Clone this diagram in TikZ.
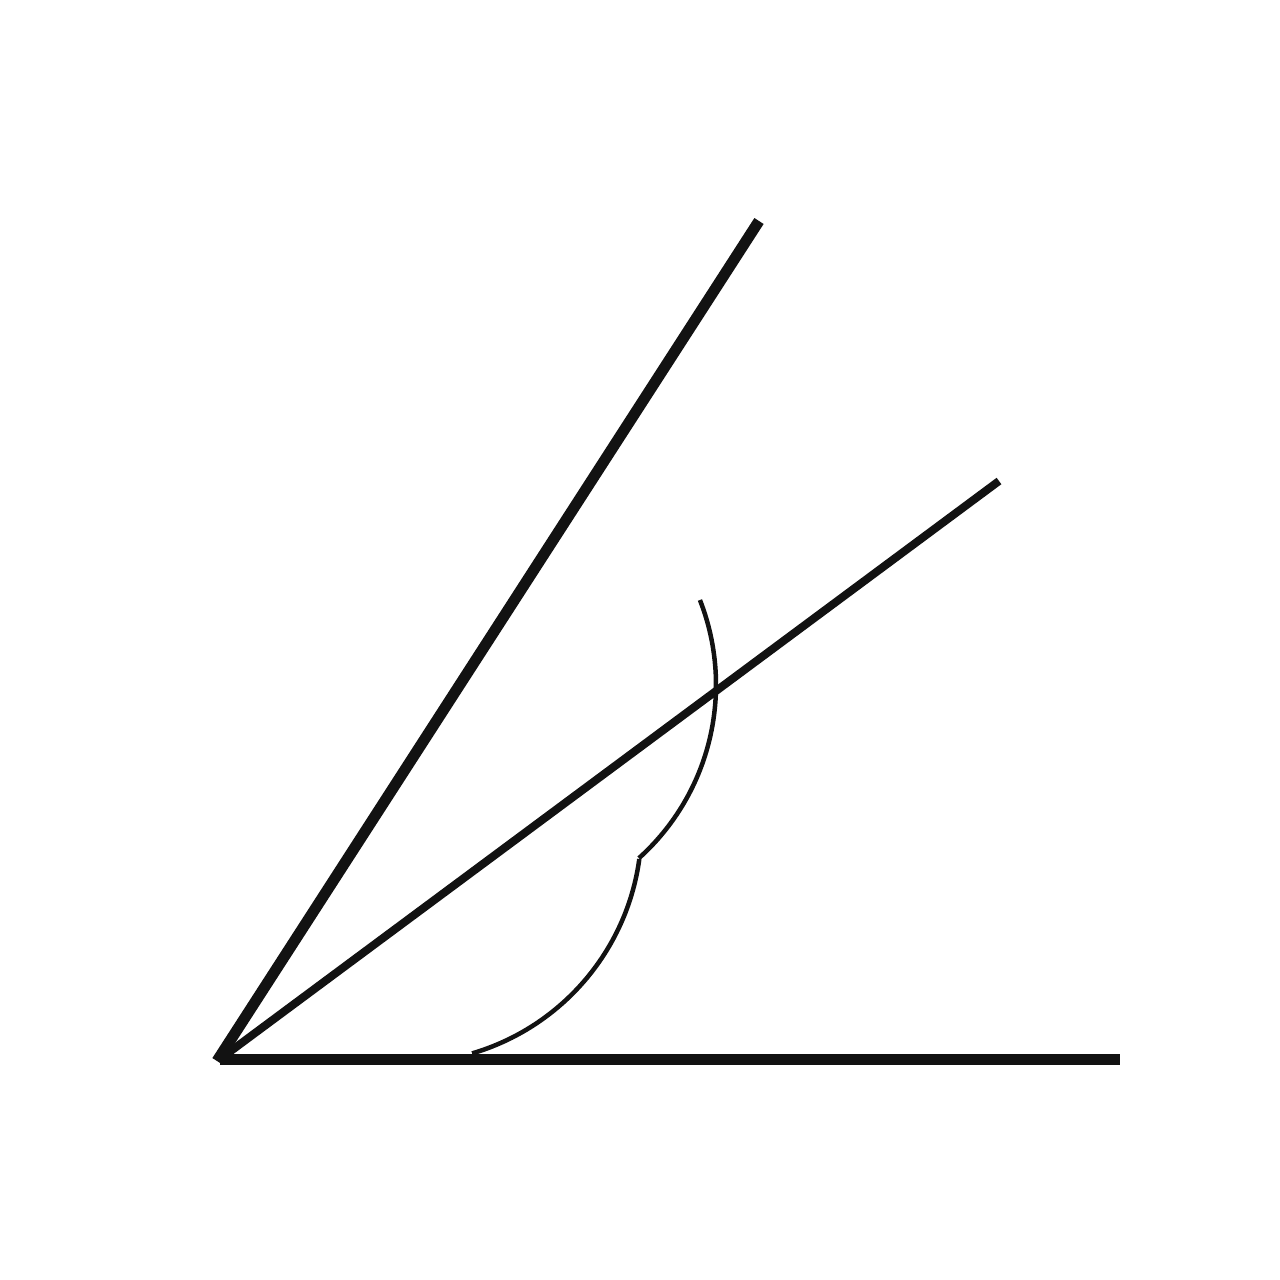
\documentclass[tikz,border=0pt]{standalone}
\begin{document}
\begin{tikzpicture}[x=1pt,y=-1pt,
  ink/.style={draw=black!93, line cap=butt},
  ray/.style={ink, line width=11pt},
  midray/.style={ink, line width=8pt},
  arcline/.style={ink, line width=4.5pt}]
\useasboundingbox (0,0) rectangle (1280,1280);
\coordinate (O) at (220,1059);
\coordinate (H) at (1120,1059);
\coordinate (U) at (759,221);
\coordinate (M) at (999,481);
\draw[ray] (O) -- (H);
\draw[ray] (217,1061) -- (U);
\draw[midray] (O) -- (M);
% arcs (angles measured with y down, so negate)
\coordinate (C1) at (405.5,827);
\coordinate (C2) at (483,685);
\draw[arcline] ([shift={(73.6:236)}]C1) arc[start angle=73.6, end angle=7.8, radius=236];
\draw[arcline] ([shift={(48:233)}]C2) arc[start angle=48, end angle=-21.4, radius=233];
\end{tikzpicture}
\end{document}
